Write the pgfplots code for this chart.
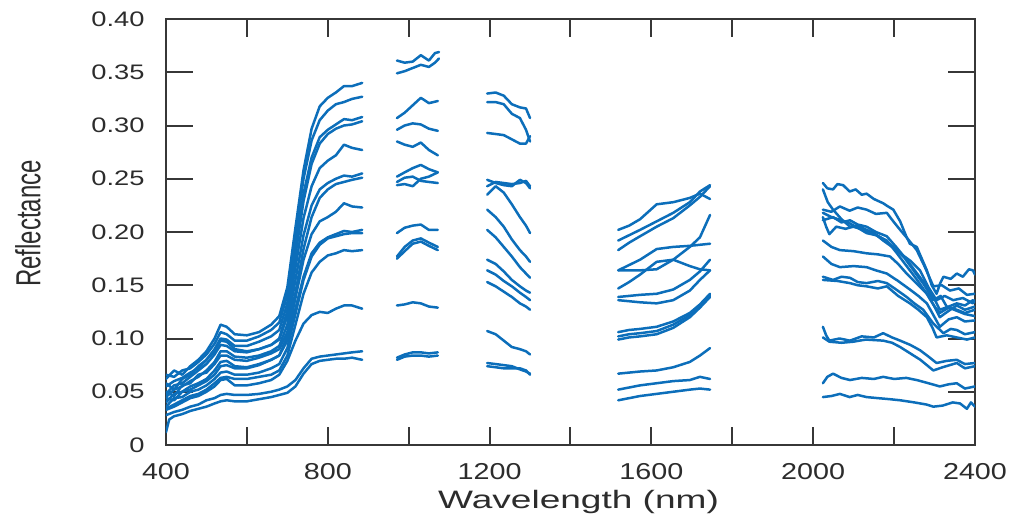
\documentclass[border=0pt]{standalone}
\usepackage{fontspec}
\setmainfont{Liberation Sans}
\usepackage{graphicx}
\usepackage{pgfplots}
\pgfplotsset{compat=1.18}
\definecolor{specblue}{RGB}{12,110,186}
\definecolor{axgray}{RGB}{55,55,55}
\newcommand{\xl}[1]{\scalebox{1.25}[1]{#1}}
\newcommand{\yl}[1]{\scalebox{1.3}[1]{#1}}
\tikzset{spec/.style={specblue, line width=1.25pt, line join=round, line cap=round}}
\begin{document}
\begin{tikzpicture}
\begin{axis}[
  at={(0,0)}, anchor=south west,
  scale only axis, width=404.5pt, height=213pt,
  xmin=400, xmax=2400, ymin=0, ymax=0.40,
  unbounded coords=jump,
  axis line style={axgray, line width=1pt},
  tick style={axgray, line width=1pt},
  tick align=inside,
  xtick={400,600,...,2400},
  xticklabels={\xl{400},,\xl{800},,\xl{1200},,\xl{1600},,\xl{2000},,\xl{2400}},
  ytick={0,0.05,0.10,0.15,0.20,0.25,0.30,0.35,0.40},
  yticklabels={\yl{0},\yl{0.05},\yl{0.10},\yl{0.15},\yl{0.20},\yl{0.25},\yl{0.30},\yl{0.35},\yl{0.40}},
  xtick style={/pgfplots/major tick length=9pt},
  ytick style={/pgfplots/major tick length=13.5pt},
  xticklabel style={font=\fontsize{11.5}{13}\selectfont, anchor=north, inner sep=0pt, yshift=-9pt, text=axgray!80!black},
  yticklabel style={font=\fontsize{10.5}{12}\selectfont, anchor=east, inner sep=0pt, xshift=-10.5pt, text=axgray!80!black},
  xlabel={\scalebox{1.47}[1]{Wavelength (nm)}},
  ylabel={\scalebox{1}[1.45]{Reflectance}},
  xlabel style={font=\fontsize{12.6}{14}\selectfont, at={(axis description cs:0.51,-0.148)}, anchor=base, inner sep=0pt, text=axgray!80!black},
  ylabel style={font=\fontsize{12}{14}\selectfont, at={(axis description cs:-0.1706,0.52)}, anchor=center, rotate=0, inner sep=0pt, text=axgray!80!black},
]
% c1
\addplot[spec] coordinates {(400,0.062) (420,0.070) (440,0.066) (460,0.074) (480,0.080) (500,0.088) (520,0.100) (535,0.113) (550,0.111) (570,0.104) (600,0.103) (630,0.106) (660,0.113) (680,0.121) (700,0.148) (720,0.204) (740,0.258) (760,0.297) (780,0.318) (800,0.326) (820,0.331) (840,0.337) (860,0.337) (885,0.340) (930,nan)
 (971,0.361) (990,0.359) (1010,0.360) (1030,0.366) (1050,0.361) (1065,0.368) (1075,0.369) (1130,nan)
 (1194,0.330) (1215,0.331) (1235,0.328) (1255,0.320) (1275,0.317) (1290,0.316) (1300,0.307) (1400,nan)
 (1518,0.202) (1545,0.206) (1572,0.212) (1613,0.226) (1654,0.228) (1695,0.232) (1720,0.236) (1745,0.231) (1900,nan)
 (2024,0.246) (2035,0.241) (2049,0.240) (2060,0.245) (2074,0.244) (2090,0.238) (2105,0.240) (2120,0.235) (2132,0.236) (2150,0.231) (2173,0.227) (2185,0.224) (2198,0.221) (2215,0.210) (2230,0.196) (2239,0.189) (2256,0.186) (2265,0.178) (2281,0.164) (2293,0.150) (2305,0.142) (2314,0.152) (2322,0.158) (2340,0.156) (2355,0.161) (2370,0.158) (2385,0.165) (2395,0.164) (2400,0.160)};
% c2
\addplot[spec] coordinates {(400,0.066) (420,0.064) (440,0.070) (460,0.072) (480,0.078) (500,0.085) (520,0.095) (535,0.106) (550,0.104) (570,0.098) (600,0.098) (630,0.102) (660,0.108) (680,0.115) (700,0.141) (720,0.196) (740,0.250) (760,0.286) (780,0.305) (800,0.314) (820,0.320) (840,0.322) (860,0.325) (885,0.327) (930,nan)
 (971,0.349) (990,0.351) (1010,0.354) (1030,0.357) (1050,0.355) (1065,0.359) (1075,0.363) (1130,nan)
 (1194,0.322) (1215,0.322) (1235,0.320) (1255,0.311) (1275,0.307) (1290,0.296) (1300,0.285) (1400,nan)
 (1518,0.192) (1545,0.197) (1572,0.202) (1613,0.210) (1654,0.218) (1695,0.228) (1720,0.238) (1745,0.244) (1900,nan)
 (2024,0.240) (2036,0.228) (2049,0.221) (2070,0.212) (2091,0.205) (2110,0.206) (2132,0.202) (2150,0.199) (2173,0.192) (2195,0.186) (2215,0.180) (2240,0.173) (2264,0.164) (2285,0.148) (2305,0.136) (2325,0.140) (2346,0.136) (2370,0.138) (2395,0.133) (2400,0.136)};
% c3
\addplot[spec] coordinates {(400,0.055) (420,0.060) (440,0.063) (460,0.068) (480,0.072) (500,0.080) (520,0.090) (535,0.100) (550,0.099) (570,0.093) (600,0.093) (630,0.097) (660,0.102) (680,0.108) (700,0.133) (720,0.184) (740,0.236) (760,0.270) (780,0.289) (800,0.296) (820,0.301) (840,0.306) (860,0.305) (885,0.308) (930,nan)
 (971,0.307) (990,0.312) (1010,0.319) (1030,0.326) (1050,0.321) (1072,0.323) (1130,nan)
 (1194,0.293) (1215,0.292) (1235,0.291) (1255,0.287) (1275,0.283) (1290,0.283) (1300,0.290) (1400,nan)
 (1518,0.183) (1545,0.190) (1572,0.196) (1613,0.205) (1654,0.213) (1695,0.225) (1720,0.233) (1745,0.243) (1900,nan)
 (2024,0.221) (2045,0.219) (2066,0.224) (2090,0.220) (2110,0.223) (2132,0.221) (2155,0.217) (2182,0.218) (2198,0.210) (2215,0.202) (2235,0.193) (2256,0.183) (2275,0.168) (2297,0.149) (2318,0.150) (2338,0.145) (2360,0.147) (2380,0.141) (2400,0.142)};
% c4
\addplot[spec] coordinates {(400,0.048) (420,0.056) (440,0.058) (460,0.064) (480,0.070) (500,0.076) (520,0.085) (535,0.094) (550,0.093) (570,0.088) (600,0.087) (630,0.090) (660,0.094) (680,0.100) (700,0.126) (720,0.178) (740,0.229) (760,0.264) (780,0.283) (800,0.292) (820,0.297) (840,0.300) (860,0.301) (885,0.304) (930,nan)
 (971,0.296) (990,0.300) (1010,0.302) (1030,0.301) (1050,0.297) (1072,0.295) (1130,nan)
 (1194,0.249) (1215,0.246) (1235,0.244) (1255,0.243) (1275,0.249) (1290,0.246) (1300,0.241) (1400,nan)
 (1518,0.164) (1545,0.169) (1572,0.174) (1613,0.184) (1654,0.186) (1695,0.187) (1720,0.188) (1745,0.189) (1900,nan)
 (2024,0.211) (2049,0.214) (2070,0.209) (2091,0.211) (2110,0.207) (2132,0.205) (2155,0.200) (2182,0.196) (2205,0.186) (2231,0.174) (2255,0.162) (2281,0.149) (2300,0.137) (2313,0.127) (2335,0.130) (2355,0.133) (2375,0.131) (2395,0.136) (2400,0.134)};
% c5
\addplot[spec] coordinates {(400,0.058) (420,0.052) (440,0.062) (460,0.066) (480,0.074) (500,0.080) (520,0.088) (535,0.098) (550,0.097) (570,0.090) (600,0.088) (630,0.090) (660,0.094) (680,0.099) (700,0.121) (720,0.167) (740,0.213) (760,0.243) (780,0.260) (800,0.267) (820,0.272) (840,0.282) (860,0.279) (885,0.277) (930,nan)
 (971,0.285) (990,0.282) (1010,0.280) (1030,0.284) (1050,0.277) (1072,0.272) (1130,nan)
 (1194,0.243) (1215,0.247) (1235,0.246) (1255,0.245) (1275,0.246) (1290,0.248) (1300,0.243) (1400,nan)
 (1518,0.164) (1545,0.164) (1572,0.164) (1613,0.165) (1654,0.174) (1695,0.186) (1720,0.195) (1745,0.216) (1900,nan)
 (2024,0.192) (2045,0.186) (2066,0.183) (2100,0.182) (2132,0.180) (2160,0.179) (2190,0.177) (2210,0.170) (2231,0.161) (2255,0.152) (2281,0.142) (2300,0.130) (2313,0.124) (2335,0.129) (2355,0.127) (2375,0.124) (2400,0.127)};
% c6
\addplot[spec] coordinates {(400,0.045) (420,0.052) (440,0.055) (460,0.060) (480,0.064) (500,0.070) (520,0.078) (535,0.088) (550,0.088) (570,0.083) (600,0.082) (630,0.084) (660,0.088) (680,0.093) (700,0.113) (720,0.155) (740,0.197) (760,0.225) (780,0.240) (800,0.246) (820,0.250) (840,0.253) (860,0.252) (885,0.255) (930,nan)
 (971,0.252) (990,0.256) (1010,0.260) (1030,0.263) (1050,0.259) (1072,0.256) (1130,nan)
 (1194,0.235) (1215,0.243) (1235,0.237) (1255,0.226) (1275,0.214) (1290,0.206) (1300,0.199) (1400,nan)
 (1518,0.147) (1545,0.153) (1572,0.160) (1613,0.172) (1654,0.174) (1695,0.168) (1720,0.165) (1745,0.164) (1900,nan)
 (2024,0.177) (2045,0.170) (2066,0.167) (2100,0.168) (2132,0.167) (2155,0.164) (2182,0.161) (2210,0.154) (2239,0.146) (2260,0.140) (2281,0.133) (2300,0.120) (2313,0.111) (2335,0.118) (2355,0.120) (2375,0.116) (2400,0.117)};
% c7
\addplot[spec] coordinates {(400,0.050) (420,0.046) (440,0.056) (460,0.058) (480,0.066) (500,0.068) (520,0.076) (535,0.084) (550,0.084) (570,0.080) (600,0.079) (630,0.082) (660,0.086) (680,0.090) (700,0.106) (720,0.143) (740,0.184) (760,0.214) (780,0.232) (800,0.240) (820,0.245) (840,0.247) (860,0.249) (885,0.251) (930,nan)
 (971,0.247) (990,0.251) (1010,0.252) (1030,0.248) (1050,0.247) (1072,0.246) (1130,nan)
 (1194,0.221) (1215,0.214) (1235,0.205) (1255,0.193) (1275,0.183) (1290,0.177) (1300,0.172) (1400,nan)
 (1518,0.139) (1545,0.140) (1572,0.141) (1613,0.142) (1654,0.146) (1695,0.155) (1720,0.163) (1745,0.174) (1900,nan)
 (2024,0.158) (2049,0.155) (2070,0.158) (2091,0.157) (2110,0.153) (2132,0.152) (2160,0.154) (2182,0.152) (2205,0.146) (2231,0.139) (2250,0.133) (2272,0.127) (2297,0.114) (2322,0.105) (2340,0.109) (2355,0.108) (2375,0.104) (2400,0.106)};
% c8
\addplot[spec] coordinates {(400,0.040) (420,0.048) (440,0.050) (460,0.055) (480,0.058) (500,0.062) (520,0.070) (535,0.078) (550,0.079) (570,0.074) (600,0.073) (630,0.076) (660,0.080) (680,0.084) (700,0.102) (720,0.138) (740,0.174) (760,0.198) (780,0.210) (800,0.214) (820,0.219) (840,0.227) (860,0.224) (885,0.223) (930,nan)
 (971,0.244) (990,0.245) (1010,0.243) (1030,0.250) (1050,0.252) (1072,0.256) (1130,nan)
 (1194,0.202) (1215,0.195) (1235,0.186) (1255,0.177) (1275,0.167) (1290,0.161) (1300,0.157) (1400,nan)
 (1518,0.136) (1545,0.135) (1572,0.134) (1613,0.133) (1654,0.136) (1695,0.145) (1720,0.155) (1745,0.164) (1900,nan)
 (2024,0.155) (2060,0.154) (2091,0.152) (2110,0.150) (2132,0.149) (2160,0.147) (2182,0.149) (2210,0.140) (2239,0.133) (2260,0.127) (2281,0.120) (2295,0.110) (2305,0.101) (2330,0.103) (2355,0.101) (2380,0.099) (2400,0.101)};
% c9
\addplot[spec] coordinates {(400,0.044) (420,0.042) (440,0.050) (460,0.052) (480,0.056) (500,0.060) (520,0.066) (535,0.074) (550,0.075) (570,0.072) (600,0.072) (630,0.075) (660,0.080) (680,0.084) (700,0.098) (720,0.128) (740,0.158) (760,0.180) (780,0.190) (800,0.195) (820,0.198) (840,0.201) (860,0.200) (885,0.202) (930,nan)
 (971,0.199) (990,0.204) (1010,0.206) (1030,0.207) (1050,0.202) (1072,0.202) (1130,nan)
 (1194,0.174) (1215,0.170) (1235,0.163) (1255,0.155) (1275,0.149) (1290,0.145) (1300,0.143) (1400,nan)
 (1518,0.106) (1545,0.108) (1572,0.109) (1613,0.111) (1654,0.116) (1695,0.124) (1720,0.132) (1745,0.142) (1900,nan)
 (2024,0.218) (2045,0.214) (2070,0.211) (2091,0.208) (2110,0.204) (2132,0.199) (2155,0.197) (2182,0.192) (2205,0.181) (2231,0.168) (2255,0.156) (2281,0.142) (2300,0.130) (2313,0.120) (2335,0.126) (2355,0.131) (2375,0.127) (2400,0.130)};
% c10
\addplot[spec] coordinates {(400,0.036) (420,0.044) (440,0.045) (460,0.050) (480,0.052) (500,0.056) (520,0.062) (535,0.068) (550,0.069) (570,0.066) (600,0.066) (630,0.068) (660,0.072) (680,0.076) (700,0.091) (720,0.123) (740,0.155) (760,0.177) (780,0.188) (800,0.194) (820,0.196) (840,0.198) (860,0.199) (885,0.199) (930,nan)
 (971,0.177) (990,0.186) (1010,0.192) (1030,0.194) (1050,0.190) (1072,0.186) (1130,nan)
 (1194,0.164) (1215,0.160) (1235,0.154) (1255,0.149) (1275,0.143) (1290,0.139) (1300,0.136) (1400,nan)
 (1518,0.099) (1545,0.101) (1572,0.102) (1613,0.104) (1654,0.110) (1695,0.120) (1720,0.129) (1745,0.139) (1900,nan)
 (2024,0.214) (2032,0.205) (2040,0.198) (2057,0.205) (2080,0.203) (2099,0.205) (2125,0.202) (2149,0.199) (2175,0.193) (2198,0.186) (2225,0.176) (2248,0.164) (2275,0.150) (2297,0.136) (2315,0.140) (2330,0.130) (2355,0.126) (2375,0.123) (2400,0.121)};
% c11
\addplot[spec] coordinates {(400,0.034) (420,0.038) (440,0.042) (460,0.046) (480,0.048) (500,0.052) (520,0.058) (535,0.063) (550,0.064) (570,0.062) (600,0.062) (630,0.064) (660,0.066) (680,0.070) (700,0.084) (720,0.113) (740,0.142) (760,0.162) (780,0.172) (800,0.178) (820,0.180) (840,0.183) (860,0.182) (885,0.183) (930,nan)
 (971,0.175) (990,0.182) (1010,0.189) (1030,0.191) (1050,0.187) (1072,0.183) (1130,nan)
 (1194,0.153) (1215,0.149) (1235,0.144) (1255,0.139) (1275,0.133) (1290,0.130) (1300,0.127) (1400,nan)
 (1518,0.102) (1545,0.104) (1572,0.105) (1613,0.107) (1654,0.113) (1695,0.122) (1720,0.131) (1745,0.140) (1900,nan)
 (2024,0.111) (2032,0.103) (2040,0.098) (2065,0.100) (2091,0.098) (2120,0.102) (2150,0.101) (2173,0.105) (2195,0.101) (2215,0.098) (2240,0.094) (2264,0.089) (2285,0.083) (2305,0.077) (2330,0.079) (2355,0.080) (2375,0.076) (2400,0.077)};
% c12
\addplot[spec] coordinates {(400,0.033) (420,0.036) (440,0.040) (460,0.044) (480,0.046) (500,0.050) (520,0.055) (535,0.061) (550,0.062) (570,0.056) (600,0.056) (630,0.058) (660,0.061) (680,0.066) (700,0.079) (720,0.098) (740,0.114) (760,0.122) (780,0.125) (800,0.124) (820,0.128) (840,0.131) (860,0.131) (885,0.128) (930,nan)
 (971,0.131) (990,0.132) (1010,0.134) (1030,0.133) (1050,0.130) (1072,0.129) (1130,nan)
 (1194,0.107) (1215,0.104) (1235,0.098) (1255,0.092) (1275,0.090) (1290,0.088) (1300,0.085) (1400,nan)
 (1518,0.067) (1545,0.068) (1572,0.069) (1613,0.070) (1654,0.073) (1695,0.078) (1720,0.084) (1745,0.091) (1900,nan)
 (2024,0.101) (2040,0.097) (2070,0.096) (2099,0.097) (2130,0.099) (2173,0.098) (2195,0.096) (2215,0.092) (2240,0.086) (2265,0.080) (2297,0.070) (2320,0.073) (2355,0.077) (2375,0.072) (2400,0.074)};
% c13
\addplot[spec] coordinates {(400,0.028) (420,0.031) (440,0.033) (460,0.036) (480,0.038) (500,0.042) (520,0.044) (535,0.047) (550,0.048) (570,0.047) (600,0.047) (630,0.048) (660,0.050) (680,0.052) (700,0.055) (720,0.061) (740,0.072) (760,0.081) (780,0.083) (800,0.084) (820,0.085) (840,0.086) (860,0.087) (885,0.088) (930,nan)
 (971,0.082) (990,0.085) (1010,0.087) (1030,0.087) (1050,0.086) (1072,0.087) (1130,nan)
 (1194,0.077) (1215,0.076) (1235,0.075) (1255,0.074) (1275,0.071) (1290,0.069) (1300,0.067) (1400,nan)
 (1518,0.052) (1545,0.054) (1572,0.056) (1613,0.058) (1654,0.060) (1695,0.061) (1720,0.064) (1745,0.062) (1900,nan)
 (2024,0.058) (2035,0.064) (2049,0.067) (2070,0.063) (2091,0.061) (2120,0.063) (2150,0.062) (2173,0.064) (2200,0.062) (2230,0.063) (2256,0.061) (2285,0.058) (2313,0.055) (2335,0.057) (2355,0.058) (2375,0.053) (2400,0.055)};
% c14
\addplot[spec] coordinates {(400,0.012) (408,0.024) (420,0.027) (440,0.029) (460,0.032) (480,0.034) (500,0.036) (520,0.039) (535,0.041) (550,0.042) (570,0.041) (600,0.041) (630,0.043) (660,0.045) (680,0.047) (700,0.049) (720,0.055) (740,0.067) (760,0.076) (780,0.079) (800,0.080) (820,0.081) (840,0.081) (860,0.082) (885,0.080) (930,nan)
 (971,0.080) (990,0.083) (1010,0.084) (1030,0.084) (1050,0.083) (1072,0.084) (1130,nan)
 (1194,0.074) (1215,0.073) (1235,0.072) (1255,0.072) (1275,0.072) (1290,0.070) (1300,0.066) (1400,nan)
 (1518,0.042) (1545,0.044) (1572,0.046) (1613,0.048) (1654,0.050) (1695,0.052) (1720,0.053) (1745,0.052) (1900,nan)
 (2024,0.045) (2045,0.046) (2066,0.048) (2090,0.045) (2110,0.047) (2132,0.045) (2160,0.044) (2190,0.043) (2215,0.042) (2250,0.040) (2280,0.038) (2297,0.036) (2320,0.037) (2345,0.040) (2363,0.039) (2380,0.034) (2390,0.040) (2400,0.036)};
\end{axis}
\pgfresetboundingbox
\path[use as bounding box] (-83pt,-38pt) rectangle (423.5pt,222.5pt);
\end{tikzpicture}
\end{document}
